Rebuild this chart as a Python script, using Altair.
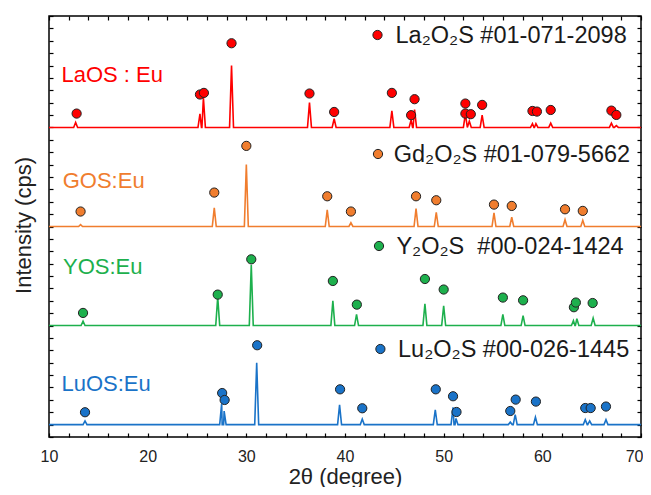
import altair as alt
import pandas as pd

# ---------------- data ----------------
samples = ["LaOS:Eu", "GOS:Eu", "YOS:Eu", "LuOS:Eu"]
colors = ["#FF0000", "#F07D2E", "#1DB04D", "#1A73C8"]
baselines = [25, 17, 9, 1]

# measured peaks (2θ, height above baseline, arbitrary units)
la_peak_x = [12.7, 25.3, 25.65, 28.5, 36.4, 38.9, 44.75, 46.7, 47.05, 52.2, 52.6, 53.9, 59.0, 59.35, 60.85, 67.0, 67.5]
la_peak_h = [0.4, 1.1, 2.4, 5.0, 2.0, 0.7, 1.35, 0.6, 1.45, 1.1, 0.5, 1.0, 0.3, 0.3, 0.35, 0.35, 0.15]
gd_peak_x = [13.2, 26.75, 30.0, 38.2, 40.6, 47.2, 49.25, 55.1, 56.9, 62.3, 64.1]
gd_peak_h = [0.15, 1.5, 5.0, 1.35, 0.3, 1.45, 1.15, 1.1, 0.75, 0.55, 0.5]
y_peak_x = [13.45, 27.1, 30.5, 38.77, 41.17, 48.1, 50.0, 56.0, 58.05, 63.15, 63.5, 65.15]
y_peak_h = [0.35, 2.3, 4.9, 2.0, 0.9, 1.75, 1.6, 0.9, 0.8, 0.4, 0.55, 0.6]
lu_peak_x = [13.65, 27.5, 27.75, 31.05, 39.45, 41.75, 49.15, 50.95, 51.25, 56.75, 57.25, 59.3, 64.35, 64.8, 66.45]
lu_peak_h = [0.3, 1.7, 1.1, 5.0, 1.6, 0.45, 1.2, 1.4, 0.5, 0.2, 0.8, 0.6, 0.4, 0.3, 0.4]
peak_half_width = 0.2

# reference-card markers (2θ, plotted height)
la_ref_x = [12.8, 25.3, 25.7, 28.5, 36.4, 38.9, 44.75, 46.7, 47.05, 52.2, 52.2, 52.75, 53.9, 59.0, 59.45, 60.85, 67.0, 67.5]
la_ref_y = [26.12, 27.66, 27.79, 31.8, 27.74, 26.25, 27.79, 25.99, 27.28, 26.93, 26.12, 26.07, 26.82, 26.33, 26.28, 26.41, 26.36, 26.01]
gd_ref_x = [13.2, 26.75, 30.0, 38.2, 40.6, 47.2, 49.25, 55.1, 56.9, 62.3, 64.1]
gd_ref_y = [18.21, 19.74, 23.51, 19.44, 18.21, 19.44, 19.12, 18.77, 18.66, 18.39, 18.26]
y_ref_x = [13.45, 27.1, 30.5, 38.77, 41.2, 48.1, 50.0, 56.0, 58.05, 63.2, 63.4, 65.1]
y_ref_y = [10.02, 11.50, 14.35, 12.60, 10.69, 12.76, 11.91, 11.26, 11.04, 10.48, 10.86, 10.82]
lu_ref_x = [13.65, 27.55, 27.8, 31.1, 39.5, 41.75, 49.2, 50.95, 51.3, 56.75, 57.3, 59.35, 64.35, 64.9, 66.45]
lu_ref_y = [2.0, 3.55, 2.99, 7.41, 3.85, 2.32, 3.85, 3.29, 2.02, 2.10, 3.02, 2.86, 2.34, 2.34, 2.46]

ref_labels = ["La\u2082O\u2082S #01-071-2098", "Gd\u2082O\u2082S #01-079-5662",
              "Y\u2082O\u2082S\u00a0 #00-024-1424", "Lu\u2082O\u2082S #00-026-1445"]
x_ticks = list(range(10, 71, 2))
y_ticks = list(range(0, 35))

# ---------------- tables ----------------
peak_sets = [(la_peak_x, la_peak_h), (gd_peak_x, gd_peak_h), (y_peak_x, y_peak_h), (lu_peak_x, lu_peak_h)]
rows = []
for s, b, (px, ph) in zip(samples, baselines, peak_sets):
    pts = [(10.0, b), (70.0, b)]
    for p, h in zip(px, ph):
        pts += [(p - peak_half_width, b), (p, b + h), (p + peak_half_width, b)]
    pts.sort(key=lambda t: t[0])
    for i, (xx, yy) in enumerate(pts):
        rows.append({"sample": s, "x": xx, "y": yy, "i": i})
lines_df = pd.DataFrame(rows)

ref_sets = [(la_ref_x, la_ref_y), (gd_ref_x, gd_ref_y), (y_ref_x, y_ref_y), (lu_ref_x, lu_ref_y)]
mrows = []
for s, (rx, ry) in zip(samples, ref_sets):
    for xx, yy in zip(rx, ry):
        mrows.append({"sample": s, "x": xx, "y": yy})
marks_df = pd.DataFrame(mrows)

FONT = "Liberation Sans, Arial, sans-serif"
xscale = alt.Scale(domain=[10, 70], nice=False, zero=False)
yscale = alt.Scale(domain=[0, 34], nice=False, zero=False)
cscale = alt.Scale(domain=samples, range=colors)

lines = alt.Chart(lines_df).mark_line(strokeWidth=1.6, interpolate="linear").encode(
    x=alt.X("x:Q", scale=xscale,
            axis=alt.Axis(orient="bottom", values=x_ticks, labelExpr="datum.value % 10 == 0 ? datum.value : ''",
                          offset=-4, tickSize=4, tickColor="black", tickWidth=1.2, domain=False, grid=False,
                          labelFont=FONT, labelFontSize=16, labelColor="#222", labelPadding=11,
                          labelFlush=False, labelOverlap=False,
                          labelAlign={"expr": "datum.value == 70 ? 'right' : 'center'"},
                          labelOffset={"expr": "datum.value == 70 ? 2 : 0"},
                          title="2θ (degree)", titleFont=FONT, titleFontSize=22, titleFontWeight="normal",
                          titleColor="#222", titlePadding=2)),
    y=alt.Y("y:Q", scale=yscale,
            axis=alt.Axis(orient="left", values=y_ticks, labels=False, offset=-4, tickSize=4,
                          tickColor="black", tickWidth=1.2, domain=False, grid=False,
                          title="Intensity (cps)", titleFont=FONT, titleFontSize=22, titleFontWeight="normal",
                          titleColor="#222", titlePadding=13, titleY=209)),
    color=alt.Color("sample:N", scale=cscale, legend=None),
    order="i:Q",
)

points = alt.Chart(marks_df).mark_point(filled=True, shape="circle", size=85, stroke="#222",
                                         strokeWidth=1, opacity=1).encode(
    x=alt.X("x:Q", scale=xscale,
            axis=alt.Axis(orient="top", values=x_ticks, labels=False, offset=-4, tickSize=4,
                          tickColor="black", tickWidth=1.2, domain=False, grid=False, title=None)),
    y=alt.Y("y:Q", scale=yscale,
            axis=alt.Axis(orient="right", values=y_ticks, labels=False, offset=-4, tickSize=4,
                          tickColor="black", tickWidth=1.2, domain=False, grid=False, title=None)),
    fill=alt.Fill("sample:N", scale=cscale, legend=None),
)

layers = [lines, points]

# sample names (pixel positions inside the plot area)
name_pos = [(12.5, 59), (13.7, 165), (14.0, 251), (12.5, 368)]
name_text = ["LaOS : Eu", "GOS:Eu", "YOS:Eu", "LuOS:Eu"]
for t, c, (px, py) in zip(name_text, colors, name_pos):
    layers.append(alt.Chart().mark_text(text=t, color=c, font=FONT, fontSize=22, align="left",
                                        baseline="middle").encode(x=alt.value(px), y=alt.value(py)))

# reference-card legend entries
leg_marker = [(328.5, 19), (329, 138), (330, 230), (331.4, 333)]
leg_text = [(346.5, 20), (344.7, 139), (347.4, 231), (349, 334)]
for lab, c, (mx, my), (tx, ty) in zip(ref_labels, colors, leg_marker, leg_text):
    layers.append(alt.Chart().mark_point(filled=True, shape="circle", size=85, fill=c, stroke="#222",
                                         strokeWidth=1, opacity=1).encode(x=alt.value(mx), y=alt.value(my)))
    layers.append(alt.Chart().mark_text(text=lab, color="#1a1a1a", font=FONT, fontSize=23.5, align="left",
                                        baseline="middle").encode(x=alt.value(tx), y=alt.value(ty)))

chart = alt.layer(*layers).resolve_axis(x="independent", y="independent").properties(
    width=592, height=421,
    autosize=alt.AutoSizeParams(type="none"),
    padding={"left": 41, "top": 8, "right": 2, "bottom": 50},
).configure_view(stroke="black", strokeWidth=1.5)

chart.save("out.html", embed_options={"renderer": "svg", "actions": False})
